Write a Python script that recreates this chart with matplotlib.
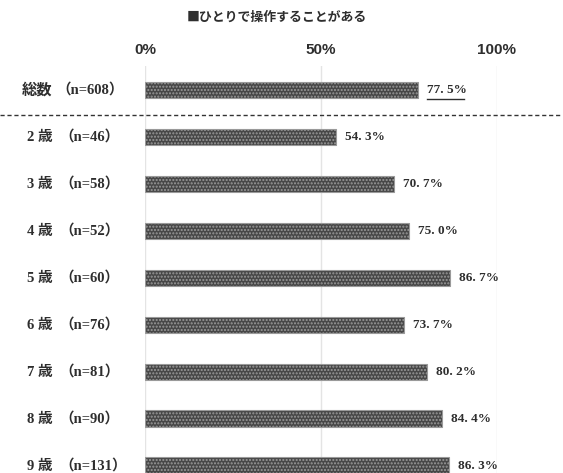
import matplotlib
matplotlib.use("Agg")
import matplotlib.pyplot as plt
from matplotlib.lines import Line2D

plt.rcParams['font.family'] = ['Noto Sans CJK JP', 'DejaVu Sans']

groups = ["総数", "2 歳", "3 歳", "4 歳", "5 歳", "6 歳", "7 歳", "8 歳", "9 歳"]
sample_sizes = [608, 46, 58, 52, 60, 76, 81, 90, 131]
values = [77.5, 54.3, 70.7, 75.0, 86.7, 73.7, 80.2, 84.4, 86.3]
tick_values = [0, 50, 100]
tick_labels = ["0%", "50%", "100%"]
title = "■ひとりで操作することがある"

W, H = 563, 473
fig = plt.figure(figsize=(W / 100, H / 100), dpi=100)

# axes placed in pixel units: 0% at x=145, 100% at x=497
x0, x1 = 145, 497
top_px = 66.5
ax = fig.add_axes([x0 / W, 0, (x1 - x0) / W, 1 - top_px / H])
ax.set_xlim(0, 100)
ax.set_ylim(8.15, -0.5)

for t in tick_values:
    ax.axvline(t, color="#e4e4e4", lw=1.0, zorder=0)

ypos = list(range(len(groups)))
ax.barh(ypos, values, height=0.36, color="#474747", edgecolor="#9a9a9a",
        hatch=".....", linewidth=0.8, zorder=2)

txt = "#2e2e2e"
serif = ["Liberation Serif", "Noto Sans CJK JP", "DejaVu Serif"]
for i, (g, n, v) in enumerate(zip(groups, sample_sizes, values)):
    ax.annotate(f"{v:.1f}%".replace(".", ". "), (v, i), xytext=(6.5, 0),
                textcoords="offset points", va="center", ha="left",
                fontsize=9.5, fontweight="bold", color=txt, family=serif)
    yfig = 1 - (90 + 47 * i) / H
    fig.text((22 if i == 0 else 27) / W, yfig, g, ha="left", va="center",
             fontsize=11 if i == 0 else 10.5, fontweight="bold", color=txt,
             family=serif)
    fig.text((56 if i == 0 else 59) / W, yfig, f"（n={n}）", ha="left",
             va="center", fontsize=10.5, fontweight="bold", color=txt,
             family=serif)

# underline the overall value
fig.add_artist(Line2D([427 / W, 464 / W], [1 - 99 / H, 1 - 99 / H],
                      color=txt, lw=1.0))

for t, lab in zip(tick_values, tick_labels):
    fig.text((x0 + (x1 - x0) * t / 100) / W, 1 - 50 / H, lab, ha="center",
             va="center", fontsize=11, fontweight="bold", color=txt,
             family=["Liberation Sans", "DejaVu Sans"])

fig.text(277 / W, 1 - 17 / H, title, ha="center", va="center",
         fontsize=9.3, fontweight="bold", color=txt)

# dashed separator between the total and the age rows
fig.add_artist(Line2D([0, 1], [1 - 115 / H, 1 - 115 / H], color="#333333",
                      lw=1.0, ls=(0, (3, 2))))

ax.set_axis_off()
fig.savefig("out.png", dpi=100)
